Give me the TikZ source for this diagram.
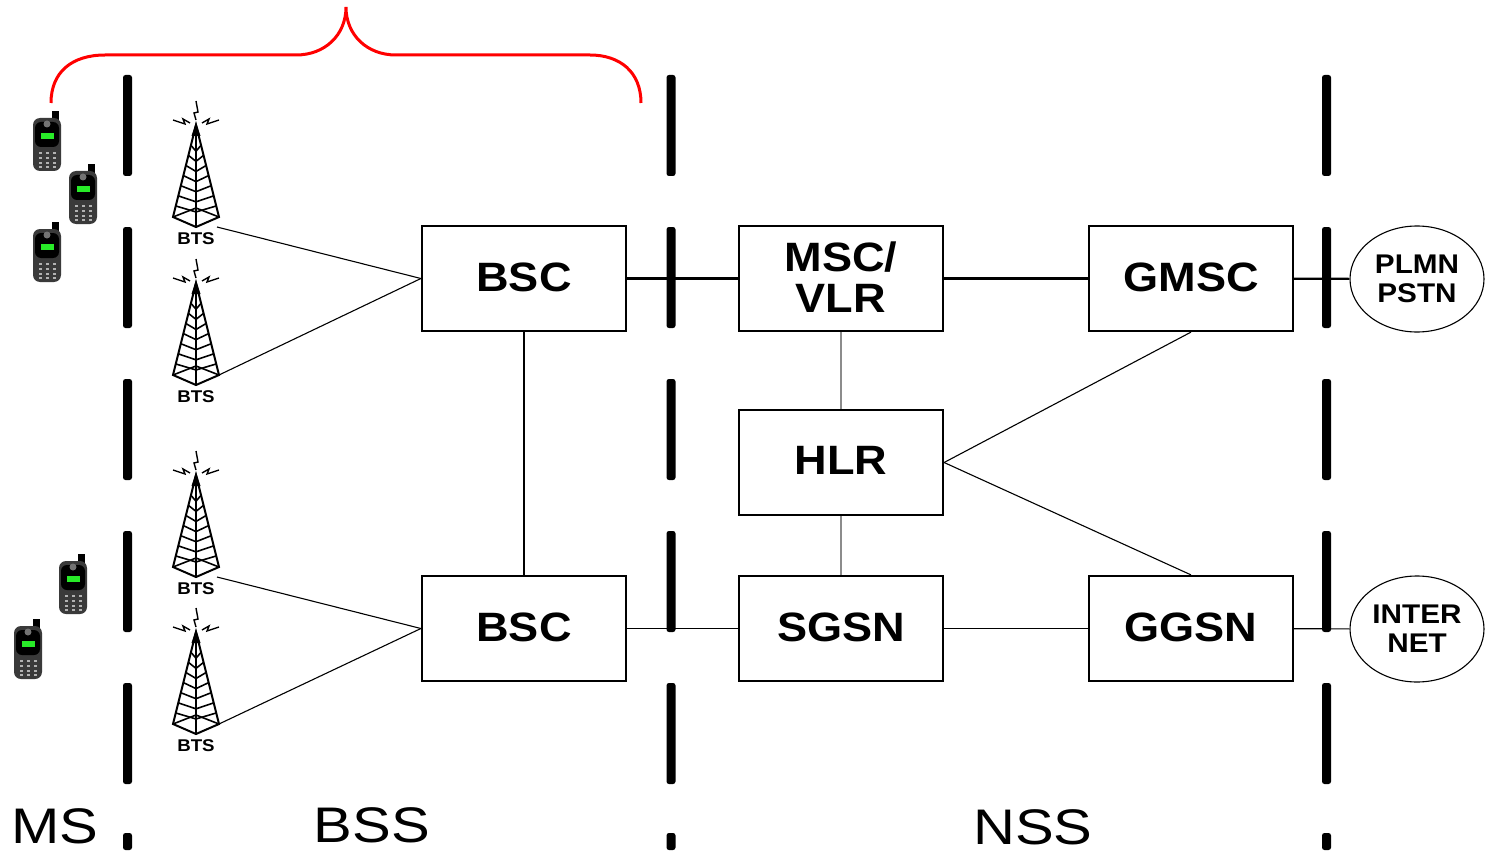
\documentclass[tikz,border=0pt]{standalone}
\usepackage{fontspec}
\setmainfont{Liberation Sans}[FakeStretch=1.1]
\newfontfamily\zonefont{Liberation Sans}[FakeStretch=1.16]
\definecolor{screengreen}{RGB}{40,235,40}
\definecolor{phonegray}{RGB}{58,58,58}
\usetikzlibrary{shapes.geometric}
\tikzset{
  box/.style={draw,line width=2.2pt,minimum width=204pt,minimum height=105pt,inner sep=0pt,align=center,text depth=3.5pt,font=\fontsize{41}{41}\selectfont\bfseries},
  cloud/.style={draw,line width=1.1pt,ellipse,minimum width=134pt,minimum height=106pt,inner sep=0pt,align=center,font=\fontsize{27}{29}\selectfont\bfseries},
  zone/.style={inner sep=0pt,font=\fontsize{50}{50}\selectfont\zonefont},
  barrier/.style={fill=black,rounded corners=2.5pt},
  thick link/.style={line width=2.2pt},
  thin link/.style={line width=1.1pt},
  gray link/.style={line width=2pt,black!45},
  tower/.pic={
    \draw[line width=2pt] (0,0) -- (-23,92) -- (0,102) -- (23,92) -- cycle;
    \draw[line width=1.4pt] (0,10) -- (0,102);
    \foreach \t in {0.22,0.33,0.44,0.55,0.66,0.77,0.88} {
      \draw[line width=1.6pt] (-23*\t,92*\t) -- (0,92*\t+6) -- (23*\t,92*\t);
    }
    \draw[line width=1.6pt] (-23,92) -- (0,83) -- (23,92);
    \fill (0,-3) -- (-4.5,11) -- (4.5,11) -- cycle;
    \draw[line width=1.4pt] (0,-5) -- (-2,-12) -- (2,-13) -- (0,-24);
    \draw[line width=1.4pt] (-6,-2) -- (-13,-6) -- (-11,-1) -- (-23,-5);
    \draw[line width=1.4pt] (6,-2) -- (13,-6) -- (11,-1) -- (23,-5);
    \coordinate (-foot) at (21,102);
    \coordinate (-east) at (23,92);
    \node[font=\fontsize{17}{17}\selectfont\bfseries,inner sep=0pt] (-label) at (0,114) {BTS};
  },
  handset/.pic={
    \fill[black] (5,-7) rectangle (12,8);
    \fill[phonegray,rounded corners=7pt] (-14,0) rectangle (14,53);
    \fill[black,rounded corners=6pt] (-12,4) rectangle (12,29);
    \fill[black!55] (0,6) circle (3.5pt);
    \fill[screengreen] (-6,15) rectangle (7,21);
    \foreach \r in {35,40,45,49} {
      \foreach \c in {-7,0,7} {
        \fill[black!30] (\c-1.5,\r-1) rectangle (\c+1.5,\r+1);
      }
    }
  }
}
\begin{document}
\begin{tikzpicture}[x=1pt,y=-1pt]
\useasboundingbox (0,0) rectangle (1485,853);
% barriers
\foreach \x in {127.5,671,1326.5} {
  \foreach \y in {75,227,379,531,683} {
    \path[barrier] (\x-4.5,\y) rectangle (\x+4.5,\y+101);
  }
  \path[barrier] (\x-4.5,833) rectangle (\x+4.5,850);
}
% phones
\pic (ph1) at (47,118) {handset};
\pic (ph2) at (83,171) {handset};
\pic (ph3) at (47,229) {handset};
\pic (ph4) at (73,561) {handset};
\pic (ph5) at (28,626) {handset};
% towers
\pic (bts1) at (196,125) {tower};
\pic (bts2) at (196,283) {tower};
\pic (bts3) at (196,475) {tower};
\pic (bts4) at (196,632) {tower};
% boxes
\node[box] (bsc1) at (524,278.5) {BSC};
\node[box] (bsc2) at (524,628.5) {BSC};
\node[box] (msc) at (841,278.5) {MSC/\\VLR};
\node[box] (hlr) at (841,462.5) {HLR};
\node[box] (sgsn) at (841,628.5) {SGSN};
\node[box] (gmsc) at (1191,278.5) {GMSC};
\node[box] (ggsn) at (1191,628.5) {GGSN};
\node[cloud] (pstn) at (1417,279) {PLMN\\PSTN};
\node[cloud] (inet) at (1417,629) {INTER\\NET};
% links
\draw[thin link] (bts1-foot) -- (bsc1.west);
\draw[thin link] (bts2-east) -- (bsc1.west);
\draw[thin link] (bts3-foot) -- (bsc2.west);
\draw[thin link] (bts4-east) -- (bsc2.west);
\draw[thick link] (bsc1) -- (msc);
\draw[thick link] (msc) -- (gmsc);
\draw[thick link] (gmsc) -- (pstn);
\draw[thick link] (bsc1) -- (bsc2);
\draw[thin link] (bsc2) -- (sgsn);
\draw[thin link] (sgsn) -- (ggsn);
\draw[thin link] (ggsn) -- (inet);
\draw[gray link] (msc) -- (hlr);
\draw[gray link] (hlr) -- (sgsn);
\draw[thin link] (hlr.east) -- (gmsc.south);
\draw[thin link] (hlr.east) -- (ggsn.north);
% brace
\coordinate (bl) at (51,103);
\coordinate (bm) at (346,7);
\coordinate (br) at (641,103);
\draw[red,line width=3pt] (bl) .. controls (51,72) and (72,55) .. (105,55) -- (296,55)
  .. controls (325,55) and (346,35) .. (bm)
  .. controls (346,35) and (367,55) .. (396,55) -- (590,55)
  .. controls (620,55) and (641,72) .. (br);
% zones
\node[zone] (ms) at (55,826) {MS};
\node[zone] (bss) at (372,825) {BSS};
\node[zone] (nss) at (1033,827) {NSS};
\end{tikzpicture}
\end{document}
